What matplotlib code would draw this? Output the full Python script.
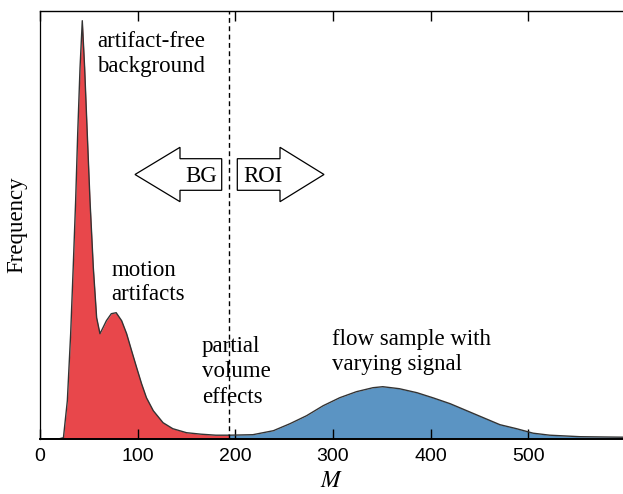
import matplotlib
matplotlib.use("Agg")
import matplotlib.pyplot as plt
from matplotlib.patches import Polygon

# ---- data (arbitrary frequency units) ----
bg_M = [0, 20, 24, 28, 31.4, 34, 36.5, 38.6, 41, 43.3, 45.7, 48.4, 51.2, 54.6, 58,
        61.4, 65, 68, 73, 78, 83.6, 88.7, 93.8, 99, 104, 109, 116, 126, 136, 150,
        165, 180, 193.5]
bg_freq = [0, 0, 1, 38, 105, 171, 238, 305, 371, 418, 371, 305, 238, 171, 121,
           105, 112, 118, 125, 126, 118, 105, 88, 71, 55, 41, 28, 16, 10, 6,
           4.5, 3.5, 3.5]
roi_M = [193.5, 218, 239, 256, 273, 290, 307, 324, 341, 351, 368, 386, 403, 420,
         437, 454, 471, 488, 505, 522, 553, 597]
roi_freq = [3.5, 4, 8, 15, 23, 33, 41, 47, 51, 52, 50, 46, 40.7, 35,
            28, 21, 14, 10, 5.5, 3.5, 2, 1.5]
threshold = 193.5
xticks = [0, 100, 200, 300, 400, 500]

RED = "#E8474B"
BLUE = "#5B94C3"
EDGE = "#333333"
SERIF = ["Liberation Serif", "DejaVu Serif"]

plt.rcParams["mathtext.fontset"] = "stix"

W, H = 623, 494
fig = plt.figure(figsize=(W / 100, H / 100), dpi=100)
ax = fig.add_axes([40 / W, 1 - 438.7 / H, 583 / W, 428 / H])

ax.fill_between(bg_M, bg_freq, 0, color=RED, lw=0, zorder=1)
ax.fill_between(roi_M, roi_freq, 0, color=BLUE, lw=0, zorder=1)
ax.plot(bg_M, bg_freq, color=EDGE, lw=1.0, zorder=2)
ax.plot(roi_M, roi_freq, color=EDGE, lw=1.0, zorder=2)
ax.axvline(threshold, color="black", lw=1.0, ls=(0, (3.5, 2.5)), zorder=3)

ax.set_xlim(0, 597)
ax.set_ylim(0, 428)
ax.set_xticks(xticks)
ax.set_yticks([])
ax.tick_params(axis="x", direction="in", top=True, length=7, width=1.0,
               labelsize=14, pad=7)
for lab in ax.get_xticklabels():
    lab.set_fontfamily("Liberation Sans")
ax.spines["right"].set_visible(False)
ax.spines["bottom"].set_linewidth(1.4)
ax.spines["top"].set_linewidth(1.0)
ax.spines["left"].set_linewidth(0.9)

ax.set_xlabel("$M$", fontsize=17, labelpad=2)
ax.set_ylabel("Frequency", fontsize=16.5, family=SERIF, labelpad=9)


def fx(px):
    return px / W


def fy(py):
    return 1 - py / H


def lines(x, baselines, texts, ha="left"):
    for b, t in zip(baselines, texts):
        fig.text(fx(x), fy(b), t, fontsize=16.5, family=SERIF, ha=ha, va="baseline")


lines(97.5, [47, 72], ["artifact-free", "background"])
lines(111.5, [276, 300.5], ["motion", "artifacts"])
lines(201.7, [351.7, 376.7, 402.7], ["partial", "volume", "effects"])
lines(332.3, [345, 370], ["flow sample with", "varying signal"])


def arrow(tip, head_base, tail):
    yc, hh, sh = 174.5, 27.2, 15.8
    pts = [(tip, yc), (head_base, yc - hh), (head_base, yc - sh), (tail, yc - sh),
           (tail, yc + sh), (head_base, yc + sh), (head_base, yc + hh)]
    poly = Polygon([(fx(a), fy(b)) for a, b in pts], closed=True,
                   transform=fig.transFigure, facecolor="white",
                   edgecolor="black", lw=0.9, zorder=5)
    fig.patches.append(poly)


arrow(135, 180, 221.7)
arrow(324, 280, 237.3)
fig.text(fx(201.5), fy(182), "BG", fontsize=16.5, family=SERIF, ha="center",
         va="baseline", zorder=6)
fig.text(fx(262.5), fy(182), "ROI", fontsize=16.5, family=SERIF, ha="center",
         va="baseline", zorder=6)

fig.savefig("out.png", dpi=100)
